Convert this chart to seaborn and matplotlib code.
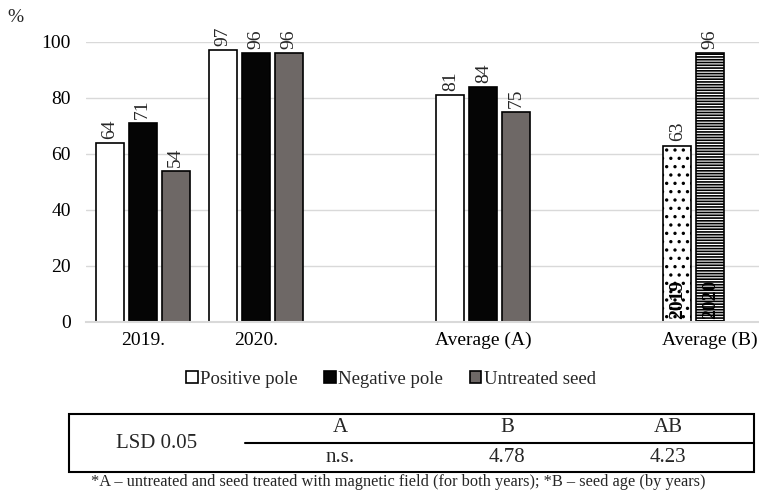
import pandas as pd
import seaborn as sns
import matplotlib
matplotlib.use('Agg')
import matplotlib.pyplot as plt
from matplotlib.patches import Rectangle, Patch

# data
groups = ['2019.', '2020.', 'Average (A)']
positive = [64, 97, 81]
negative = [71, 96, 84]
untreated = [54, 96, 75]
avg_b_years = ['2019', '2020']
avg_b = [63, 96]

series = ['Positive pole', 'Negative pole', 'Untreated seed']
order = ['2019.', '2020.', ' ', 'Average (A)', '  ', 'Average (B)']

rows = []
for g, p, n, u in zip(groups, positive, negative, untreated):
    rows += [(g, series[0], p), (g, series[1], n), (g, series[2], u)]
# Average (B) bars take the first two slots of the last group
for s, v in zip(series[:2], avg_b):
    rows.append(('Average (B)', s, v))
df = pd.DataFrame(rows, columns=['group', 'treatment', 'value'])

sns.set_theme(style='white')
plt.rcParams['font.family'] = ['Liberation Serif', 'DejaVu Serif']
plt.rcParams['hatch.linewidth'] = 1.2

fs = 14
fig = plt.figure(figsize=(7.59, 4.91), dpi=100)
W, H = 759, 491
ax = fig.add_axes([86 / W, (H - 322) / H, 681 / W, 280 / H])

palette = {'Positive pole': 'white', 'Negative pole': '#050505', 'Untreated seed': '#6e6866'}
sns.barplot(data=df, x='group', y='value', hue='treatment', order=order,
            hue_order=series, palette=palette, width=0.872, gap=0.15,
            edgecolor='black', linewidth=1.2, saturation=1, legend=False, ax=ax)

ax.set_ylim(0, 100)
ax.set_xlim(-0.5, 5.5)
ax.set_yticks(range(0, 101, 20))
ax.grid(axis='y', color='#d9d9d9', linewidth=1)
ax.set_axisbelow(True)
for side in ['top', 'right', 'left']:
    ax.spines[side].set_visible(False)
ax.spines['bottom'].set_color('#d9d9d9')
ax.spines['bottom'].set_linewidth(1.5)
ax.tick_params(axis='y', length=0, pad=11, labelsize=fs, colors='black')
ax.tick_params(axis='x', length=0, pad=7, labelsize=fs, colors='black')
ax.set_xlabel('')
ax.set_ylabel('')

# restyle the Average (B) bars
b_hatches = ['..', '------']
for i, cont in enumerate(ax.containers):
    for bar in cont:
        cx = bar.get_x() + bar.get_width() / 2
        if cx > 4.5 and i < 2:
            bar.set_facecolor('white')
            bar.set_hatch(b_hatches[i])
            ax.text(cx, 1.2, avg_b_years[i], rotation=90, ha='center', va='bottom',
                    fontsize=fs, fontweight='bold', color='black')
    ax.bar_label(cont, fmt='%.0f', rotation=90, padding=3, fontsize=fs)

fig.text(15 / W, 1 - 18 / H, '%', fontsize=fs, ha='center', va='center')

# legend
handles = [Patch(facecolor=palette[s], edgecolor='black', linewidth=1.2) for s in series]
fig.legend(handles, series, loc='center', bbox_to_anchor=(391 / W, 1 - 379 / H), ncol=3,
           frameon=False, fontsize=13.5, handlelength=0.6, handleheight=0.6,
           handletextpad=0.15, columnspacing=1.4)

# LSD table below the chart
tab = fig.add_axes([0, 0, 1, 1])
tab.set_xlim(0, W)
tab.set_ylim(H, 0)
tab.axis('off')
tab.add_patch(Rectangle((69, 414), 754 - 69, 472 - 414, fill=False, edgecolor='black', linewidth=1.5))
tab.plot([245, 754], [443, 443], color='black', linewidth=1.5)
tab.text(157, 443, 'LSD 0.05', fontsize=15, ha='center', va='center')
for x, head, val in zip([340, 507, 668], ['A', 'B', 'AB'], ['n.s.', '4.78', '4.23']):
    tab.text(x, 428, head, fontsize=15, ha='center', va='center')
    tab.text(x, 457, val, fontsize=15, ha='center', va='center')
tab.text(398, 482, '*A \u2013 untreated and seed treated with magnetic field (for both years); '
         '*B \u2013 seed age (by years)', fontsize=11.8, ha='center', va='center')

fig.savefig('out.png', dpi=100)
